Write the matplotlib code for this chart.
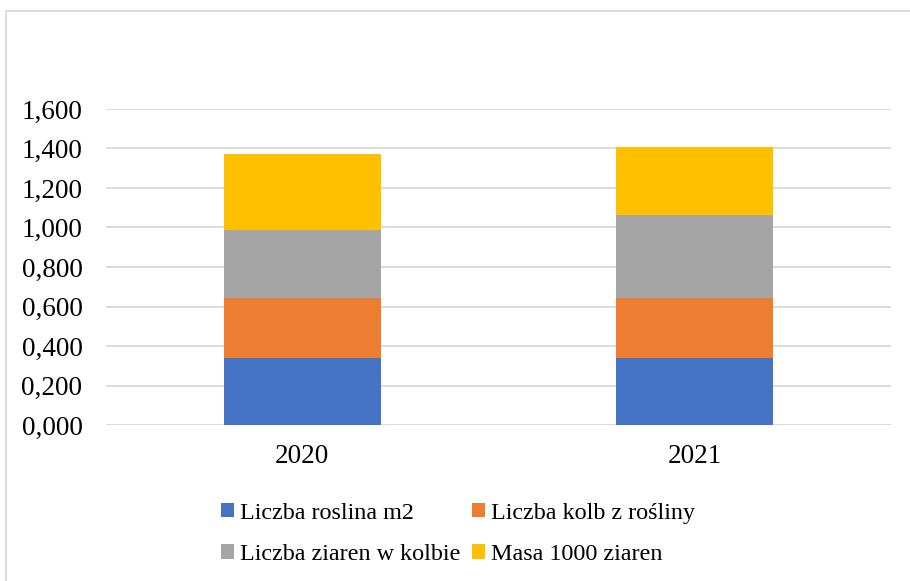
import matplotlib.pyplot as plt
from matplotlib.lines import Line2D
from matplotlib.ticker import FuncFormatter

years = ["2020", "2021"]
series_names = ["Liczba roslina m2", "Liczba kolb z rośliny",
                "Liczba ziaren w kolbie", "Masa 1000 ziaren"]
plants_m2 = [0.341, 0.341]
cobs_per_plant = [0.300, 0.300]
grains_per_cob = [0.348, 0.424]
mass_1000 = [0.382, 0.343]
colors = ["#4472C4", "#ED7D31", "#A5A5A5", "#FFC000"]

plt.rcParams['font.family'] = ['Liberation Serif', 'DejaVu Serif']

fig = plt.figure(figsize=(9.1, 5.81), dpi=100)
ax = fig.add_axes([106 / 910, 1 - 425 / 581, (891 - 106) / 910, (425 - 109) / 581])

x = range(len(years))
bottom = [0.0] * len(years)
bars = []
for vals, name, c in zip([plants_m2, cobs_per_plant, grains_per_cob, mass_1000],
                         series_names, colors):
    b = ax.bar(x, vals, width=0.4, bottom=bottom, color=c, label=name, zorder=3)
    bars.append(b)
    bottom = [bo + v for bo, v in zip(bottom, vals)]

ax.set_xlim(-0.5, 1.5)
ax.set_ylim(0, 1.6)
ax.set_yticks([i * 0.2 for i in range(9)])
ax.yaxis.set_major_formatter(FuncFormatter(lambda v, p: f"{v:.3f}".replace(".", ",")))
ax.set_xticks(list(x))
ax.set_xticklabels(years)
ax.grid(axis='y', color='#D9D9D9', linewidth=1.3, zorder=0)
for s in ax.spines.values():
    s.set_visible(False)
ax.tick_params(axis='y', length=0, labelsize=19.5, pad=17)
ax.tick_params(axis='x', length=0, labelsize=19.5, pad=14)

# Excel-style legend: row 1 blue/orange, row 2 gray/yellow
order = [0, 2, 1, 3]
fig.legend([bars[i] for i in order], [series_names[i] for i in order],
           loc='center', bbox_to_anchor=(458 / 910, 1 - 534 / 581), ncol=2,
           frameon=False, fontsize=17.4, handlelength=0.55, handleheight=0.55,
           handletextpad=0.25, columnspacing=0.45, labelspacing=0.85)

# chart border
fig.add_artist(Line2D([6 / 910, 1], [1 - 11 / 581] * 2, transform=fig.transFigure,
                      color='#D9D9D9', linewidth=1.3))
fig.add_artist(Line2D([6 / 910] * 2, [0, 1 - 11 / 581], transform=fig.transFigure,
                      color='#D9D9D9', linewidth=1.3))

fig.savefig("out.png", dpi=100)
